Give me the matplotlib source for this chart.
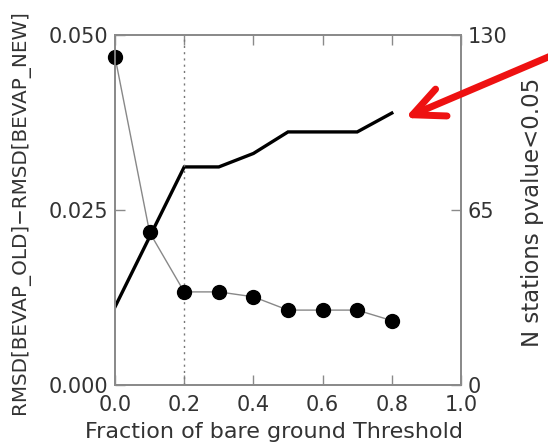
import matplotlib
matplotlib.use("Agg")
import matplotlib.pyplot as plt

# data
threshold = [0.0, 0.1, 0.2, 0.3, 0.4, 0.5, 0.6, 0.7, 0.8]
rmsd_diff = [0.0469, 0.0218, 0.0133, 0.0133, 0.0126, 0.0107, 0.0107, 0.0107, 0.0092]
n_stations = [29, 55, 81, 81, 86, 94, 94, 94, 101]

x_ticks = [0.0, 0.2, 0.4, 0.6, 0.8, 1.0]
left_ticks = [0.0, 0.025, 0.05]
right_ticks = [0, 65, 130]

txt = "#333333"
spine = "#8a8a8a"
plt.rcParams["font.family"] = "DejaVu Sans"
plt.rcParams["font.size"] = 15

fig = plt.figure(figsize=(5.48, 4.42), dpi=100)
ax = fig.add_axes([115 / 548, 1 - 385 / 442, 346 / 548, 350 / 442])
ax2 = ax.twinx()
ax.set_zorder(2)
ax.patch.set_visible(False)

# right axis: thick black line
ax2.plot(threshold, n_stations, color="black", lw=2.4, solid_joinstyle="miter")
ax2.set_ylim(0, 130)
ax2.set_yticks(right_ticks)
ax2.set_yticklabels([str(t) for t in right_ticks], color=txt)
ax2.set_ylabel("N stations pvalue<0.05", color=txt, fontsize=16.5)
ax2.yaxis.set_label_coords(533 / 548, 1 - 212 / 442, transform=fig.transFigure)

# left axis: dots with thin gray line
ax.axvline(0.2, color="#777777", lw=1, ls=(0, (1.5, 3)))
ax.plot(threshold, rmsd_diff, color="#888888", lw=1)
ax.plot(threshold, rmsd_diff, "o", color="black", ms=10, clip_on=False)
ax.set_xlim(0, 1.0)
ax.set_ylim(0, 0.05)
ax.set_xticks(x_ticks)
ax.set_xticklabels(["%.1f" % t for t in x_ticks], color=txt)
ax.set_yticks(left_ticks)
ax.set_yticklabels(["%.3f" % t for t in left_ticks], color=txt)
ax.set_xlabel("Fraction of bare ground Threshold", color=txt, fontsize=16)
ax.xaxis.set_label_coords(274 / 548, 1 - 432 / 442, transform=fig.transFigure)
ax.xaxis.label.set_va("center")
ax.set_ylabel("RMSD[BEVAP_OLD]\u2212RMSD[BEVAP_NEW]", color=txt, fontsize=14.3)
ax.yaxis.set_label_coords(20 / 548, 1 - 212 / 442, transform=fig.transFigure)
ax.yaxis.label.set_va("center")
ax2.yaxis.label.set_va("center")

for a in (ax, ax2):
    for s in a.spines.values():
        s.set_color(spine)
        s.set_linewidth(1.3)
    a.tick_params(direction="in", length=7, width=1, color=spine, pad=5)
ax.tick_params(axis="x", top=True, pad=7)

# red arrow pointing at the last point of the thick line
ax.annotate("", xy=(405 / 548, 1 - 118 / 442), xycoords="figure fraction",
            xytext=(560 / 548, 1 - 52 / 442), textcoords="figure fraction",
            arrowprops=dict(arrowstyle="->,head_length=1.5,head_width=0.7",
                            color="#ee1111", lw=5, shrinkA=0, shrinkB=0,
                            capstyle="round", joinstyle="round"))

fig.savefig("out.png", dpi=100)
